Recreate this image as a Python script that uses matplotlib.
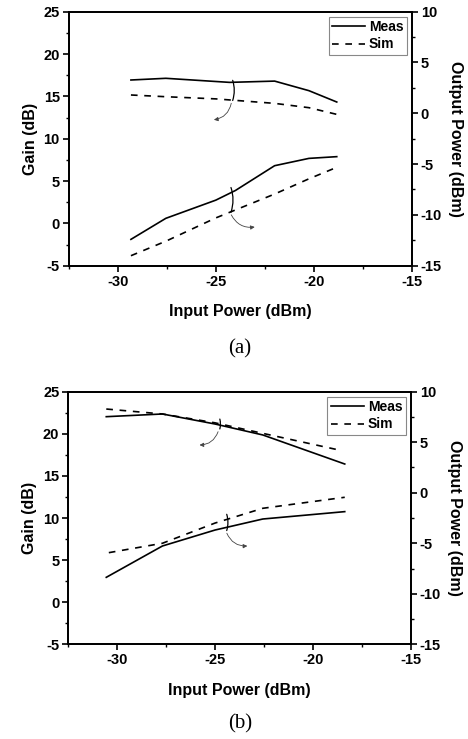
import matplotlib.pyplot as plt
from matplotlib.ticker import MultipleLocator

# panel (a)
a_gain_meas_x = [-29.33, -27.55, -24.3, -22.0, -20.25, -18.83]
a_gain_meas_y = [16.93, 17.13, 16.65, 16.8, 15.67, 14.33]
a_gain_sim_x = [-29.33, -27.5, -25.0, -22.0, -20.25, -18.83]
a_gain_sim_y = [15.16, 14.95, 14.7, 14.17, 13.66, 12.87]
a_pout_meas_x = [-29.33, -27.55, -25.0, -24.0, -22.0, -20.25, -18.83]
a_pout_meas_y = [-12.41, -10.34, -8.55, -7.6, -5.16, -4.44, -4.27]
a_pout_sim_x = [-29.33, -27.5, -25.0, -22.0, -20.25, -18.83]
a_pout_sim_y = [-14.02, -12.55, -10.3, -7.95, -6.45, -5.32]

# panel (b)
b_gain_meas_x = [-30.56, -27.69, -25.0, -22.56, -18.37]
b_gain_meas_y = [22.03, 22.35, 21.16, 19.86, 16.41]
b_gain_sim_x = [-30.56, -27.69, -25.0, -22.56, -18.66]
b_gain_sim_y = [22.94, 22.35, 21.3, 20.05, 18.07]
b_pout_meas_x = [-30.56, -27.69, -25.0, -22.56, -18.37]
b_pout_meas_y = [-8.37, -5.27, -3.69, -2.6, -1.87]
b_pout_sim_x = [-30.43, -27.69, -25.0, -22.56, -18.37]
b_pout_sim_y = [-5.93, -5.0, -3.0, -1.54, -0.45]

xticks = [-30, -25, -20, -15]
gain_ticks = [-5, 0, 5, 10, 15, 20, 25]
pout_ticks = [-15, -10, -5, 0, 5, 10]

plt.rcParams["font.family"] = ["Liberation Sans", "DejaVu Sans"]
plt.rcParams["font.weight"] = "bold"

fig = plt.figure(figsize=(4.68, 7.39), dpi=100)


def style_axis(ax):
    ax.tick_params(which="major", direction="out", length=4, width=1.2,
                   labelsize=10.5, pad=2.5)
    ax.tick_params(which="minor", direction="out", length=2, width=1)
    for sp in ax.spines.values():
        sp.set_linewidth(1.3)


def draw_panel(rect, gm, gs, pm, ps, brackets, caption, cap_y):
    ax = fig.add_axes(rect)
    ax2 = ax.twinx()
    ax.plot(gm[0], gm[1], color="black", lw=1.2, label="Meas")
    ax.plot(gs[0], gs[1], color="black", lw=1.2, ls=(0, (4, 4)), label="Sim")
    ax2.plot(pm[0], pm[1], color="black", lw=1.2)
    ax2.plot(ps[0], ps[1], color="black", lw=1.2, ls=(0, (4, 4)))

    ax.set_xlim(-32.5, -15)
    ax.set_ylim(-5, 25)
    ax2.set_ylim(-15, 10)
    ax.set_xticks(xticks)
    ax.set_yticks(gain_ticks)
    ax2.set_yticks(pout_ticks)
    ax.xaxis.set_minor_locator(MultipleLocator(2.5))
    ax.yaxis.set_minor_locator(MultipleLocator(2.5))
    ax2.yaxis.set_minor_locator(MultipleLocator(2.5))
    ax.set_yticklabels([str(t) for t in gain_ticks])
    ax.set_xticklabels([str(t) for t in xticks])
    ax2.set_yticklabels([str(t) for t in pout_ticks])
    style_axis(ax)
    style_axis(ax2)

    ax.set_xlabel("Input Power (dBm)", fontsize=11.5, fontweight="bold", labelpad=11)
    ax.set_ylabel("Gain (dB)", fontsize=11.5, fontweight="bold", labelpad=4)
    ax2.set_ylabel("Output Power (dBm)", fontsize=11.5, fontweight="bold",
                   rotation=270, labelpad=15)

    leg = ax.legend(loc="upper right", fontsize=10, handlelength=2.4,
                    borderaxespad=0.35, fancybox=False, framealpha=1,
                    edgecolor="#888888", borderpad=0.25, labelspacing=0.25,
                    handletextpad=0.25)
    leg.get_frame().set_linewidth(0.8)

    # brackets and curved arrows pointing to the axis each pair belongs to
    for (bx, by0, by1, ax_end, rad) in brackets:
        ax.annotate("", xy=(bx, by0), xytext=(bx, by1), xycoords="axes fraction",
                    arrowprops=dict(arrowstyle="-", lw=0.9, color="black",
                                    connectionstyle="arc3,rad=-0.2"))
        ax.annotate("", xy=ax_end, xytext=(bx, by0 + 0.01), xycoords="axes fraction",
                    arrowprops=dict(arrowstyle="-|>", lw=0.6, color="#444444",
                                    mutation_scale=6,
                                    connectionstyle="arc3,rad=%s" % rad))

    fig.text(0.513, cap_y, caption, family=["Liberation Serif"], fontweight="normal",
             fontsize=15, ha="center", va="center")
    return ax


draw_panel([0.147, 0.6405, 0.733, 0.3437],
           (a_gain_meas_x, a_gain_meas_y), (a_gain_sim_x, a_gain_sim_y),
           (a_pout_meas_x, a_pout_meas_y), (a_pout_sim_x, a_pout_sim_y),
           [(0.475, 0.64, 0.74, (0.415, 0.573), -0.4),
            (0.47, 0.2, 0.318, (0.55, 0.154), 0.4)],
           "(a)", 0.528)

draw_panel([0.146, 0.1281, 0.7315, 0.3419],
           (b_gain_meas_x, b_gain_meas_y), (b_gain_sim_x, b_gain_sim_y),
           (b_pout_meas_x, b_pout_meas_y), (b_pout_sim_x, b_pout_sim_y),
           [(0.44, 0.842, 0.902, (0.375, 0.789), -0.4),
            (0.46, 0.44, 0.525, (0.531, 0.39), 0.4)],
           "(b)", 0.020)

fig.savefig("out.png", dpi=100)
